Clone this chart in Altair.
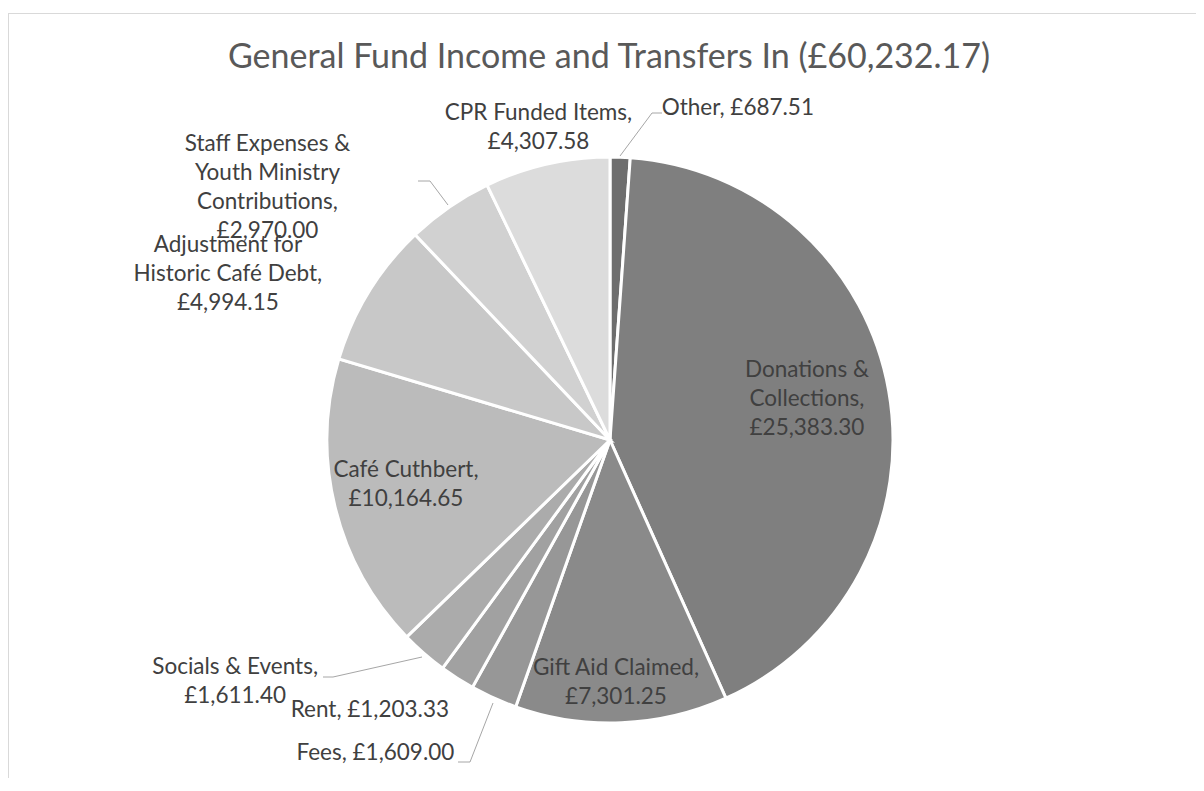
import math
import altair as alt
import pandas as pd

# ---------------- data ----------------
categories = [
    "Other",
    "Donations & Collections",
    "Gift Aid Claimed",
    "Fees",
    "Rent",
    "Socials & Events",
    "Café Cuthbert",
    "Adjustment for Historic Café Debt",
    "Staff Expenses & Youth Ministry Contributions",
    "CPR Funded Items",
]
values = [687.51, 25383.30, 7301.25, 1609.00, 1203.33, 1611.40, 10164.65, 4994.15, 2970.00, 4307.58]
label_lines = [
    ["Other, £687.51"],
    ["Donations &", "Collections,", "£25,383.30"],
    ["Gift Aid Claimed,", "£7,301.25"],
    ["Fees, £1,609.00"],
    ["Rent, £1,203.33"],
    ["Socials & Events,", "£1,611.40"],
    ["Café Cuthbert,", "£10,164.65"],
    ["Adjustment for", "Historic Café Debt,", "£4,994.15"],
    ["Staff Expenses &", "Youth Ministry", "Contributions,", "£2,970.00"],
    ["CPR Funded Items,", "£4,307.58"],
]
title_text = "General Fund Income and Transfers In (£60,232.17)"

# ---------------- styling / layout ----------------
colors = ["#6e6e6e", "#7f7f7f", "#8a8a8a", "#979797", "#a1a1a1",
          "#ababab", "#bbbbbb", "#c8c8c8", "#d1d1d1", "#dcdcdc"]
CX, CY, R = 602, 432, 283
LINE_H = 29
# label radius, dx, dy of the label block centre (per category, same order)
label_layout = [
    (330, 116, -2),
    (200, 0, -6),
    (243, -4, 0),
    (330, -99, 12),
    (330, -62, -8),
    (330, -158, -7),
    (209, -1, -5),
    (330, -101, 7),
    (330, -155, 19),
    (330, 2, 9),
]
leader_segments = [
    (612, 148, 644, 105), (644, 105, 654, 105),
    (440, 197, 422, 173), (422, 173, 410, 173),
    (414, 649, 325, 669), (325, 669, 315, 669),
    (485, 695, 462, 754), (462, 754, 450, 754),
]
FONT = "Lato"
LABEL_SIZE = 22.5
LABEL_COLOR = "#404040"

df = pd.DataFrame({
    "order": list(range(len(categories))),
    "category": categories,
    "value": values,
    "label": ["\n".join(l) for l in label_lines],
})
total = sum(values)
theta_scale = alt.Scale(domain=[0, total], range=[0, 2 * math.pi])

base = alt.Chart(df).transform_window(
    cum_end="sum(value)", sort=[alt.SortField("order")], frame=[None, 0]
).transform_calculate(
    cum_start="datum.cum_end - datum.value",
    cum_mid="datum.cum_end - datum.value / 2",
)

arcs = base.mark_arc(outerRadius=R, stroke="white", strokeWidth=3).encode(
    theta=alt.Theta("cum_start:Q", scale=theta_scale, stack=False),
    theta2="cum_end:Q",
    color=alt.Color("category:N", scale=alt.Scale(domain=categories, range=colors), legend=None),
    x=alt.value(CX),
    y=alt.value(CY),
)

label_layers = []
for cat, lines, (lr, dx, dy) in zip(categories, label_lines, label_layout):
    shift = -(len(lines) - 1) * LINE_H / 2
    label_layers.append(
        base.transform_filter(alt.datum.category == cat).mark_text(
            radius=lr, dx=dx, dy=dy + shift, font=FONT, fontSize=LABEL_SIZE, color=LABEL_COLOR,
            lineBreak="\n", lineHeight=LINE_H, align="center", baseline="middle",
        ).encode(
            theta=alt.Theta("cum_mid:Q", scale=theta_scale, stack=False),
            text="label:N",
            x=alt.value(CX),
            y=alt.value(CY),
        )
    )

lead_df = pd.DataFrame(leader_segments, columns=["x", "y", "x2", "y2"])
leaders = alt.Chart(lead_df).mark_rule(color="#a6a6a6", strokeWidth=1).encode(
    x=alt.X("x:Q", scale=None), y=alt.Y("y:Q", scale=None),
    x2="x2:Q", y2="y2:Q",
)

dummy = pd.DataFrame({"t": [title_text]})
title = alt.Chart(dummy).mark_text(
    font=FONT, fontSize=34, color="#595959", align="center", baseline="alphabetic"
).encode(text="t:N", x=alt.value(601), y=alt.value(60))

frame_left = alt.Chart(dummy).mark_rule(color="#d9d9d9", strokeWidth=1).encode(
    x=alt.value(0.5), y=alt.value(5), y2=alt.value(775))
frame_top = alt.Chart(dummy).mark_rule(color="#d9d9d9", strokeWidth=1).encode(
    x=alt.value(0), x2=alt.value(1196), y=alt.value(5.5))

chart = alt.layer(frame_left, frame_top, arcs, leaders, title, *label_layers).properties(
    width=1188, height=770, padding=0, autosize=alt.AutoSizeParams(type="none"),
    background="white",
).configure_view(strokeWidth=0)

chart.save("out.html", embed_options={"renderer": "svg", "actions": False})
